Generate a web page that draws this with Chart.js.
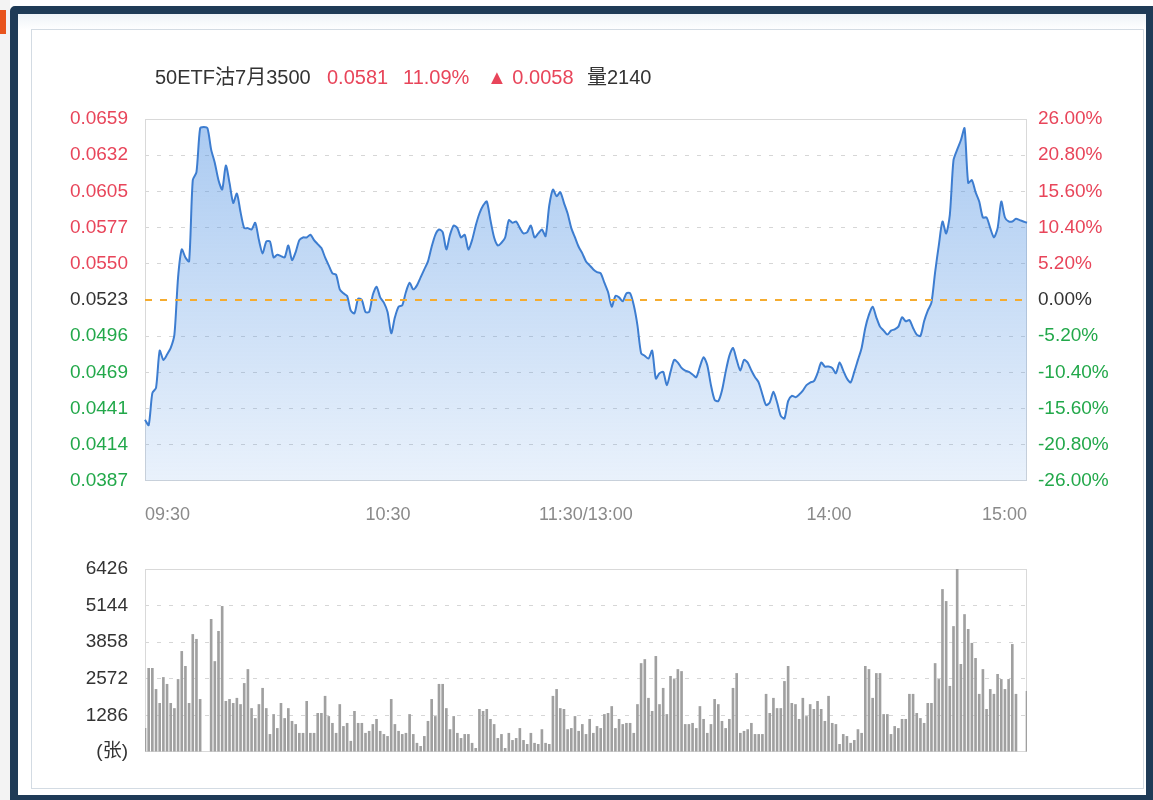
<!DOCTYPE html>
<html><head><meta charset="utf-8">
<script src="https://cdn.jsdelivr.net/npm/chart.js@4.4.1/dist/chart.umd.min.js"></script>
<style>
html,body{margin:0;padding:0;width:1153px;height:800px;overflow:hidden;background:#fff;font-family:"Liberation Sans","Noto Sans CJK SC",sans-serif;}
#strip{position:absolute;left:0;top:0;width:10px;height:800px;background:#f3f3f3;}
#strip .o{position:absolute;left:0;top:10px;width:6px;height:24px;background:#e8541c;}
#frame{position:absolute;left:10px;top:6px;width:1143px;height:794px;box-sizing:border-box;border:8px solid #1f3b57;border-right-width:7px;border-bottom-width:5px;border-radius:5px 0 0 0;background:linear-gradient(#eef3f7 0px,#fff 16px);}
#inner{position:absolute;left:31px;top:29px;width:1113px;height:760px;box-sizing:border-box;border:1px solid #d3dbe3;background:#fff;}
.t{position:absolute;top:65px;font-size:20px;line-height:24px;white-space:nowrap;z-index:5;}
canvas{position:absolute;left:0;}
#c1{top:0;}
#c2{top:540px;}
</style></head>
<body>
<div id="strip"><div class="o"></div></div>
<div id="frame"></div>
<div id="inner"></div>
<span class="t" style="left:155px;color:#333">50ETF沽7月3500</span>
<span class="t" style="left:327px;color:#e8455a">0.0581</span>
<span class="t" style="left:403px;color:#e8455a">11.09%</span>
<span class="t" style="left:487px;color:#e8455a">▲ 0.0058</span>
<span class="t" style="left:587px;color:#333">量2140</span>
<canvas id="c1" width="1153" height="540"></canvas>
<canvas id="c2" width="1153" height="260"></canvas>
<script>
const prevClose = 0.0523;
const priceTickLabels = ['0.0387','0.0414','0.0441','0.0469','0.0496','0.0523','0.0550','0.0577','0.0605','0.0632','0.0659'];
const pctTickLabels = ['-26.00%','-20.80%','-15.60%','-10.40%','-5.20%','0.00%','5.20%','10.40%','15.60%','20.80%','26.00%'];
const pctTickValues = [-0.26,-0.208,-0.156,-0.104,-0.052,0,0.052,0.104,0.156,0.208,0.26];
const timeLabels = ['09:30','10:30','11:30/13:00','14:00','15:00'];
const timeLabelIndex = [0,60,120,180,240];
const volTickLabels = ['(张)','1286','2572','3858','5144','6426'];
const volTickValues = [0,1286,2572,3858,5144,6426];

const price = [
0.0433,0.0429,0.0453,0.0457,0.0485,0.0478,0.0482,0.0487,0.0497,0.0540,
0.0561,0.0555,0.0552,0.0613,0.0619,0.0652,0.0653,0.0652,0.0636,0.0626,
0.0613,0.0606,0.0624,0.0611,0.0596,0.0603,0.0589,0.0577,0.0577,0.0576,
0.0581,0.0568,0.0558,0.0567,0.0567,0.0555,0.0557,0.0556,0.0555,0.0564,
0.0553,0.0559,0.0568,0.0570,0.0570,0.0572,0.0568,0.0565,0.0562,0.0555,
0.0549,0.0543,0.0542,0.0531,0.0528,0.0526,0.0515,0.0513,0.0524,0.0523,
0.0514,0.0514,0.0527,0.0533,0.0525,0.0521,0.0514,0.0498,0.0510,0.0518,
0.0519,0.0529,0.0536,0.0531,0.0534,0.0540,0.0546,0.0552,0.0563,0.0572,
0.0576,0.0574,0.0561,0.0572,0.0579,0.0577,0.0570,0.0572,0.0561,0.0568,
0.0579,0.0588,0.0594,0.0597,0.0583,0.0570,0.0564,0.0566,0.0570,0.0583,
0.0581,0.0582,0.0577,0.0573,0.0574,0.0579,0.0570,0.0573,0.0576,0.0571,
0.0594,0.0606,0.0601,0.0604,0.0596,0.0588,0.0577,0.0570,0.0563,0.0558,
0.0552,0.0549,0.0546,0.0544,0.0543,0.0536,0.0529,0.0518,0.0526,0.0525,
0.0522,0.0528,0.0528,0.0519,0.0504,0.0483,0.0481,0.0479,0.0485,0.0464,
0.0468,0.0469,0.0459,0.0469,0.0478,0.0476,0.0472,0.0470,0.0469,0.0467,
0.0465,0.0473,0.0480,0.0474,0.0459,0.0448,0.0447,0.0455,0.0469,0.0481,
0.0487,0.0478,0.0470,0.0478,0.0476,0.0470,0.0465,0.0461,0.0452,0.0444,
0.0446,0.0454,0.0446,0.0436,0.0434,0.0447,0.0451,0.0450,0.0452,0.0455,
0.0459,0.0461,0.0462,0.0468,0.0476,0.0473,0.0473,0.0472,0.0468,0.0476,
0.0470,0.0464,0.0461,0.0469,0.0478,0.0487,0.0502,0.0512,0.0518,0.0510,
0.0503,0.0500,0.0497,0.0500,0.0501,0.0503,0.0510,0.0507,0.0508,0.0502,
0.0497,0.0496,0.0507,0.0515,0.0521,0.0544,0.0564,0.0582,0.0573,0.0587,
0.0628,0.0636,0.0643,0.0652,0.0611,0.0613,0.0604,0.0597,0.0585,0.0585,
0.0577,0.0570,0.0577,0.0597,0.0585,0.0582,0.0582,0.0584,0.0583,0.0582,0.0581
];

const volume = [
840,2950,2950,2210,1720,2630,2390,1720,1540,2560,3545,3020,1720,4140,3970,1860,
0,0,
4670,3190,4250,5125,1790,1860,1720,1900,1680,2420,2910,1540,1190,1680,2250,1540,630,1330,840,1720,
1190,1540,1090,980,670,670,1790,670,670,1370,1370,1970,1260,1020,670,1680,910,1020,390,1440,
1020,1020,670,740,980,1160,740,630,560,1860,980,740,
630,670,1330,630,320,210,560,1090,1860,1260,2390,2390,1540,800,1260,670,490,630,630,320,
140,1510,1440,1510,1160,980,490,630,140,670,420,490,840,420,280,670,320,280,800,320,
280,1970,2210,1540,1510,800,840,1260,740,980,630,1160,670,910,840,1330,1370,1610,840,1160,
980,1020,1020,670,1680,3120,3260,1900,1440,3370,1680,2250,1330,2670,2560,2910,2840,980,980,1020,
840,1610,1160,670,980,
1860,1680,1090,840,1160,2250,2770,670,740,800,1020,630,630,630,2040,1370,1900,1540,1540,2490,
3020,1720,1680,1160,1900,1260,1680,1510,1790,1510,1090,1970,1020,980,280,630,560,320,420,800,
670,3020,2910,1900,2770,2770,1330,1330,630,910,840,1160,1160,2040,2040,1370,1190,1020,1720,1720,
3120,2560,5720,5300,2320,4420,6426,3090,4840,4320,3830,3300,2040,2910,1510,2210,2040,2740,2560,2210,
2560,3790,2040,
0,0,
2140
];

// minute categories (09:30-11:30, 13:00-15:00; 11:30 and 13:00 share one slot)
const minutes = [];
for (let i = 0; i <= 240; i++) {
  let t = i <= 120 ? 9*60+30+i : 13*60+(i-120);
  minutes.push(String(Math.floor(t/60)).padStart(2,'0') + ':' + String(t%60).padStart(2,'0'));
}

// use a narrow face (tall, condensed digits like the reference) when installed
function hasFont(name) {
  const c = document.createElement('canvas').getContext('2d');
  c.font = '40px monospace'; const a = c.measureText('0.0659abcWm').width;
  c.font = '40px "' + name + '", monospace'; const b = c.measureText('0.0659abcWm').width;
  return Math.abs(a - b) > 0.5;
}
const NARROW = hasFont('Liberation Sans Narrow');
const FONT = NARROW ? '"Liberation Sans Narrow", "Noto Sans CJK SC", sans-serif' : '"Liberation Sans", "Noto Sans CJK SC", sans-serif';
const TICK_SIZE = NARROW ? 23 : 19;
const VOL_SIZE = NARROW ? 24 : 19;
const X_SIZE = NARROW ? 22 : 18;
if (NARROW) {
  document.querySelectorAll('.t').forEach(el => { el.style.fontFamily = FONT; el.style.fontSize = '24px'; el.style.top = '63px'; el.style.lineHeight = '28px'; });
}

const RED = '#e8455a', GREEN = '#22a84a', DARK = '#333333';

const frame = {
  id: 'frame',
  beforeDatasetsDraw(chart) {
    const a = chart.chartArea, c = chart.ctx;
    c.save(); c.strokeStyle = '#d9d9d9'; c.lineWidth = 1;
    c.strokeRect(Math.round(a.left)+0.5, Math.round(a.top)+0.5, Math.round(a.right-a.left)-1, Math.round(a.bottom-a.top)-1);
    c.restore();
  }
};

const refLine = {
  id: 'refLine',
  afterDatasetsDraw(chart) {
    const a = chart.chartArea, c = chart.ctx;
    const y = Math.round(chart.scales.y.getPixelForValue(prevClose));
    c.save(); c.setLineDash([7,8]); c.strokeStyle = '#f5ac2f'; c.lineWidth = 2;
    c.beginPath(); c.moveTo(a.left, y); c.lineTo(a.right, y); c.stroke(); c.restore();
  }
};

const timeAxis = {
  id: 'timeAxis',
  afterDraw(chart) {
    const xs = chart.scales.x, c = chart.ctx;
    c.save(); c.font = X_SIZE + 'px ' + FONT; c.fillStyle = '#8a8a8a'; c.textBaseline = 'middle';
    timeLabels.forEach((t, i) => {
      const x = xs.getPixelForValue(timeLabelIndex[i]);
      c.textAlign = i === 0 ? 'left' : (i === timeLabels.length-1 ? 'right' : (t.indexOf('/') >= 0 ? 'center' : 'left'));
      c.fillText(t, x, 515);
    });
    c.restore();
  }
};

const tickColor = ctx => ctx.index < 5 ? GREEN : (ctx.index === 5 ? DARK : RED);

new Chart(document.getElementById('c1'), {
  type: 'line',
  data: {
    labels: minutes,
    datasets: [{
      data: price,
      borderColor: '#3d7dd0',
      borderWidth: 2,
      pointRadius: 0,
      tension: 0.25,
      fill: 'start',
      backgroundColor: (ctx) => {
        const a = ctx.chart.chartArea;
        if (!a) return 'rgba(77,144,226,0.3)';
        const g = ctx.chart.ctx.createLinearGradient(0, a.top, 0, a.bottom);
        g.addColorStop(0, 'rgba(77,144,226,0.48)');
        g.addColorStop(1, 'rgba(77,144,226,0.12)');
        return g;
      }
    }]
  },
  options: {
    responsive: false,
    animation: false,
    events: [],
    layout: { padding: { top: 119, bottom: 59, left: 0, right: 0 } },
    plugins: { legend: { display: false }, tooltip: { enabled: false } },
    scales: {
      x: { type: 'category', display: false, offset: false },
      y: {
        position: 'left',
        min: prevClose*(1+pctTickValues[0]),
        max: prevClose*(1+pctTickValues[pctTickValues.length-1]),
        afterBuildTicks: s => { s.ticks = pctTickValues.map(p => ({ value: prevClose*(1+p) })); },
        afterFit: s => { s.width = 145; },
        ticks: { autoSkip: false, padding: 17, color: tickColor, font: { size: TICK_SIZE, family: FONT },
                 callback: (v, i) => priceTickLabels[i] },
        grid: { drawTicks: false, lineWidth: 1,
                color: ctx => (ctx.index === 0 || ctx.index === 5 || ctx.index === 10) ? 'rgba(0,0,0,0)' : '#d6d6d6' },
        border: { display: false, dash: [4,8] }
      },
      y2: {
        position: 'right',
        min: pctTickValues[0],
        max: pctTickValues[pctTickValues.length-1],
        afterBuildTicks: s => { s.ticks = pctTickValues.map(p => ({ value: p })); },
        afterFit: s => { s.width = 126; },
        ticks: { autoSkip: false, padding: 11, color: tickColor, font: { size: TICK_SIZE, family: FONT },
                 callback: (v, i) => pctTickLabels[i] },
        grid: { display: false, drawTicks: false },
        border: { display: false }
      }
    }
  },
  plugins: [frame, refLine, timeAxis]
});

new Chart(document.getElementById('c2'), {
  type: 'bar',
  data: {
    labels: minutes,
    datasets: [{
      data: volume,
      backgroundColor: '#a0a0a0',
      borderWidth: 0,
      barPercentage: 0.72,
      categoryPercentage: 1.0
    }]
  },
  options: {
    responsive: false,
    animation: false,
    events: [],
    layout: { padding: { top: 29, bottom: 48, left: 0, right: 126 } },
    plugins: { legend: { display: false }, tooltip: { enabled: false } },
    scales: {
      x: { type: 'category', display: false, offset: false },
      y: {
        position: 'left',
        min: volTickValues[0],
        max: volTickValues[volTickValues.length-1],
        afterBuildTicks: s => { s.ticks = volTickValues.map(v => ({ value: v })); },
        afterFit: s => { s.width = 145; },
        ticks: { autoSkip: false, padding: 17, color: DARK, font: { size: VOL_SIZE, family: FONT },
                 callback: (v, i) => volTickLabels[i] },
        grid: { drawTicks: false, lineWidth: 1,
                color: ctx => (ctx.index === 0 || ctx.index === volTickValues.length-1) ? 'rgba(0,0,0,0)' : '#d6d6d6' },
        border: { display: false, dash: [4,8] }
      }
    }
  },
  plugins: [frame]
});
</script>
</body></html>
